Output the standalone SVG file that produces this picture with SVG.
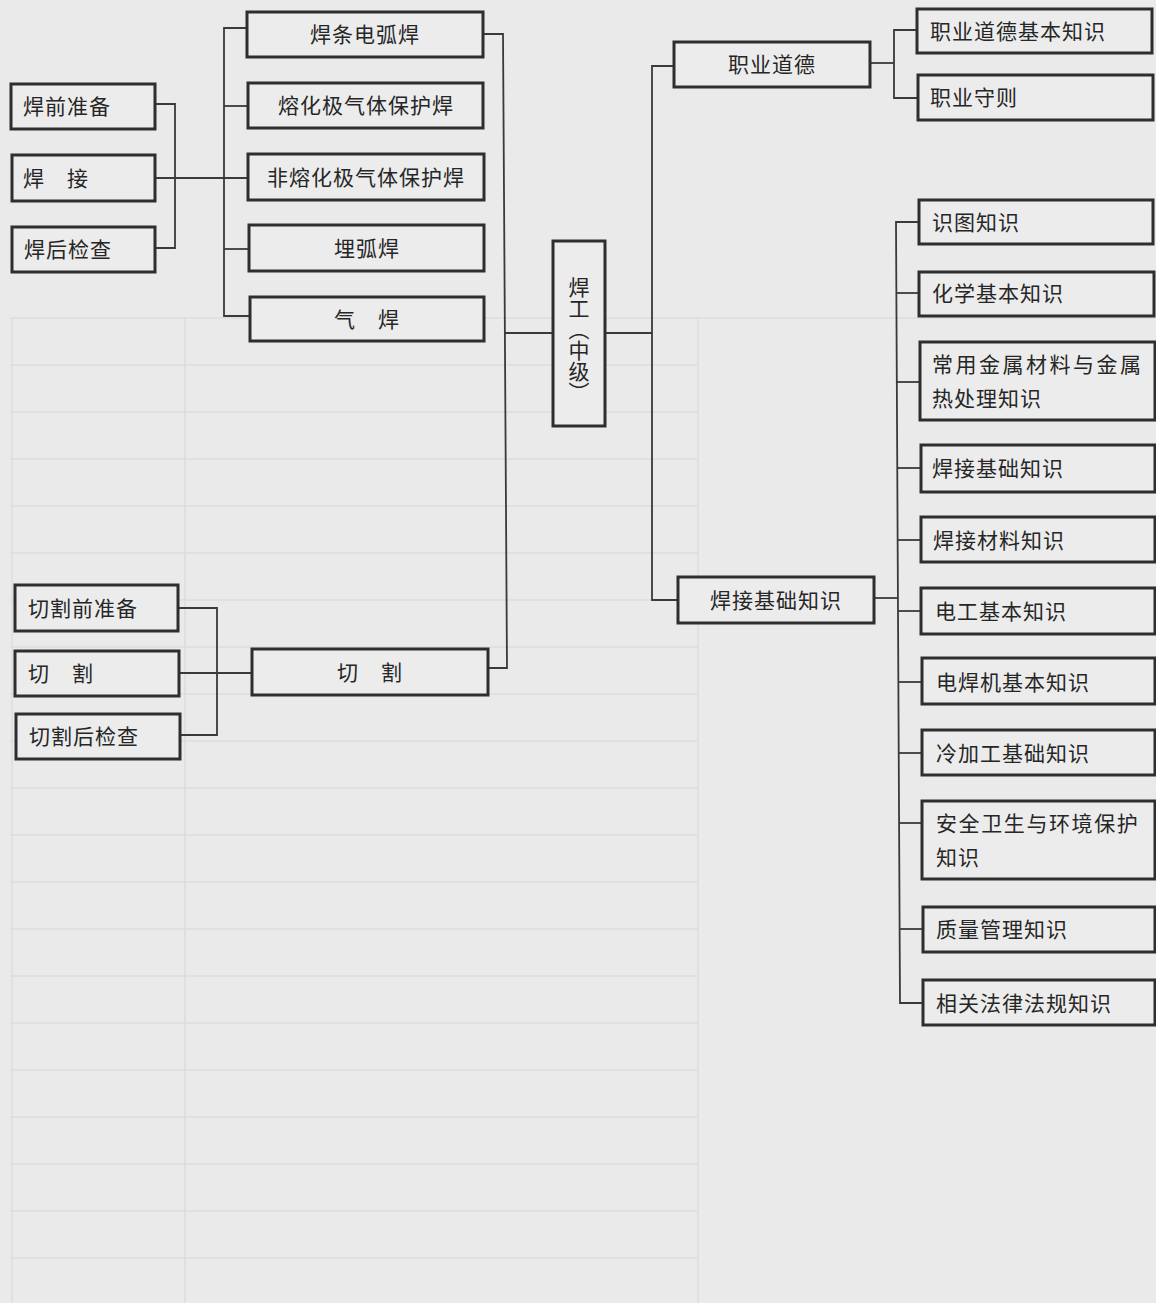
<svg xmlns="http://www.w3.org/2000/svg" width="1156" height="1303" viewBox="0 0 1156 1303">
<style>
.bg{fill:#eaeaea}
.grid line{stroke:#dcdcdc;stroke-width:1.5}
.box{fill:#ececec;stroke:#2e2e2e;stroke-width:3}
.conn path{fill:none;stroke:#3a3a3a;stroke-width:1.8}
text{font-family:"Noto Sans CJK SC","Noto Sans",sans-serif;font-size:21px;fill:#262626;letter-spacing:1px}
.c{text-anchor:middle}
.w{letter-spacing:2.5px}
.w2{letter-spacing:1.6px}
</style>
<rect class="bg" x="0" y="0" width="1156" height="1303"/>
<g class="grid">
<line x1="12" y1="318" x2="12" y2="1303"/>
<line x1="185" y1="318" x2="185" y2="1303"/>
<line x1="698" y1="318" x2="698" y2="1303"/>
<line x1="10" y1="318" x2="1156" y2="318"/>
<line x1="10" y1="365" x2="698" y2="365"/>
<line x1="10" y1="412" x2="698" y2="412"/>
<line x1="10" y1="459" x2="698" y2="459"/>
<line x1="10" y1="506" x2="698" y2="506"/>
<line x1="10" y1="553" x2="698" y2="553"/>
<line x1="10" y1="600" x2="698" y2="600"/>
<line x1="10" y1="647" x2="698" y2="647"/>
<line x1="10" y1="694" x2="698" y2="694"/>
<line x1="10" y1="741" x2="698" y2="741"/>
<line x1="10" y1="788" x2="698" y2="788"/>
<line x1="10" y1="835" x2="698" y2="835"/>
<line x1="10" y1="882" x2="698" y2="882"/>
<line x1="10" y1="929" x2="698" y2="929"/>
<line x1="10" y1="976" x2="698" y2="976"/>
<line x1="10" y1="1023" x2="698" y2="1023"/>
<line x1="10" y1="1070" x2="698" y2="1070"/>
<line x1="10" y1="1117" x2="698" y2="1117"/>
<line x1="10" y1="1164" x2="698" y2="1164"/>
<line x1="10" y1="1211" x2="698" y2="1211"/>
<line x1="10" y1="1258" x2="698" y2="1258"/>
</g>
<g class="conn" id="connectors">
<path d="M155,104 H175 V248 H155"/>
<path d="M155,178 H248"/>
<path d="M247,28 H224 V316 H250"/>
<path d="M224,106 H248"/>
<path d="M224,249 H249"/>
<path d="M483,34 H503 L507,668 H488"/>
<path d="M505,333 H553"/>
<path d="M605,333 H652"/>
<path d="M674,66 H652 V600 H678"/>
<path d="M870,63 H894"/>
<path d="M917,30 H894 V98 H918"/>
<path d="M874,598 H897"/>
<path d="M919,222 H896 L900,1003 H923"/>
<path d="M896,293 H919"/>
<path d="M897,382 H920"/>
<path d="M897,468 H921"/>
<path d="M898,540 H921"/>
<path d="M898,611 H921"/>
<path d="M899,682 H922"/>
<path d="M899,753 H922"/>
<path d="M899,823 H922"/>
<path d="M900,929 H923"/>
<path d="M178,608 H217 V735 H180"/>
<path d="M179,673 H252"/>
</g>
<g id="n-hanqian"><rect class="box" x="11" y="84" width="144" height="45"/><text x="23" y="114">焊前准备</text></g>
<g id="n-hanjie"><rect class="box" x="12" y="155" width="143" height="46"/><text x="23" y="186">焊　接</text></g>
<g id="n-hanhou"><rect class="box" x="12" y="227" width="143" height="45"/><text x="24" y="257">焊后检查</text></g>
<g id="n-hantiao"><rect class="box" x="247" y="12" width="236" height="45"/><text class="c" x="365" y="42">焊条电弧焊</text></g>
<g id="n-ronghua"><rect class="box" x="248" y="83" width="235" height="45"/><text class="c" x="366" y="113">熔化极气体保护焊</text></g>
<g id="n-feironghua"><rect class="box" x="248" y="154" width="236" height="46"/><text class="c" x="366" y="185">非熔化极气体保护焊</text></g>
<g id="n-maihu"><rect class="box" x="249" y="225" width="235" height="46"/><text class="c" x="367" y="256">埋弧焊</text></g>
<g id="n-qihan"><rect class="box" x="250" y="297" width="234" height="44"/><text class="c" x="367" y="327">气　焊</text></g>
<g id="n-hangong"><rect class="box" x="553" y="241" width="52" height="185"/><text class="c" x="579" y="340" writing-mode="vertical-rl" style="letter-spacing:0">焊工（中级）</text></g>
<g id="n-zhiyedaode"><rect class="box" x="674" y="42" width="196" height="45"/><text class="c" x="772" y="72">职业道德</text></g>
<g id="n-daodejiben"><rect class="box" x="917" y="9" width="235" height="44"/><text x="930" y="39">职业道德基本知识</text></g>
<g id="n-shouze"><rect class="box" x="918" y="75" width="235" height="45"/><text x="930" y="105">职业守则</text></g>
<g id="n-shitu"><rect class="box" x="919" y="200" width="234" height="44"/><text x="932" y="230">识图知识</text></g>
<g id="n-huaxue"><rect class="box" x="919" y="272" width="235" height="44"/><text x="932" y="301">化学基本知识</text></g>
<g id="n-jinshu"><rect class="box" x="920" y="342" width="235" height="78"/><text class="w" x="932" y="372">常用金属材料与金属</text><text x="932" y="406">热处理知识</text></g>
<g id="n-hanjiejichu-r"><rect class="box" x="921" y="445" width="234" height="47"/><text x="932" y="476">焊接基础知识</text></g>
<g id="n-cailiao"><rect class="box" x="921" y="517" width="234" height="45"/><text x="933" y="548">焊接材料知识</text></g>
<g id="n-diangong"><rect class="box" x="921" y="588" width="234" height="46"/><text x="935" y="619">电工基本知识</text></g>
<g id="n-diianhanji"><rect class="box" x="922" y="658" width="233" height="46"/><text x="936" y="690">电焊机基本知识</text></g>
<g id="n-lengjiagong"><rect class="box" x="922" y="730" width="233" height="45"/><text x="936" y="761">冷加工基础知识</text></g>
<g id="n-anquan"><rect class="box" x="922" y="801" width="233" height="78"/><text class="w2" x="936" y="831">安全卫生与环境保护</text><text x="936" y="865">知识</text></g>
<g id="n-zhiliang"><rect class="box" x="923" y="907" width="232" height="45"/><text x="936" y="937">质量管理知识</text></g>
<g id="n-falv"><rect class="box" x="923" y="980" width="232" height="45"/><text x="936" y="1011">相关法律法规知识</text></g>
<g id="n-hanjiejichu-m"><rect class="box" x="678" y="577" width="196" height="46"/><text class="c" x="776" y="608">焊接基础知识</text></g>
<g id="n-qieqian"><rect class="box" x="15" y="585" width="163" height="46"/><text x="28" y="616">切割前准备</text></g>
<g id="n-qiege-l"><rect class="box" x="15" y="651" width="164" height="45"/><text x="28" y="681">切　割</text></g>
<g id="n-qiehou"><rect class="box" x="16" y="714" width="164" height="45"/><text x="29" y="744">切割后检查</text></g>
<g id="n-qiege"><rect class="box" x="252" y="649" width="236" height="46"/><text class="c" x="370" y="680">切　割</text></g>
</svg>
